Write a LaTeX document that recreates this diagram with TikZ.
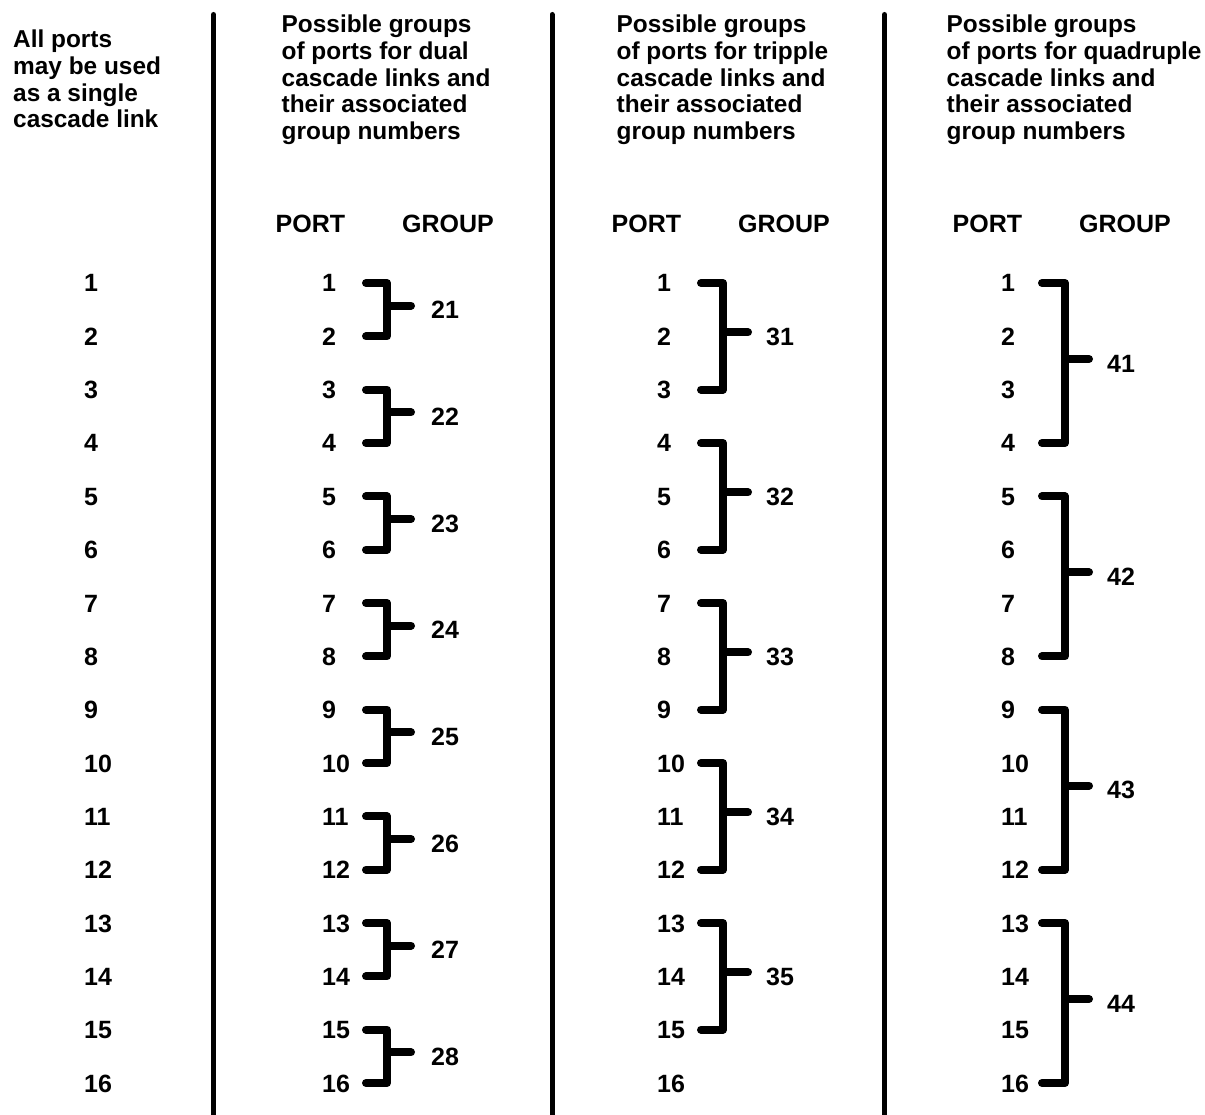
\documentclass[tikz,border=0pt]{standalone}
\usepackage{fontspec}
\setmainfont{Liberation Sans}
\begin{document}
\begin{tikzpicture}[x=1pt,y=-1pt,
  every node/.style={inner sep=0pt, font=\fontsize{25}{26.7}\selectfont\bfseries},
  header/.style={anchor=north west, align=left, font=\fontsize{24.4}{26.7}\selectfont\bfseries},
  brk/.style={line width=8pt, line cap=round, line join=round},
  divider/.style={line width=5pt, line cap=round}]
\useasboundingbox[fill=white] (0,0) rectangle (1205,1115);

% dividers
\coordinate (d1t) at (213.5,14.5); \coordinate (d1b) at (213.5,1125);
\coordinate (d2t) at (552,14.5);   \coordinate (d2b) at (552,1125);
\coordinate (d3t) at (884.5,14.5); \coordinate (d3b) at (884.5,1125);
\draw[divider] (d1t) -- (d1b);
\draw[divider] (d2t) -- (d2b);
\draw[divider] (d3t) -- (d3b);

% headers
\node[header] (h1) at (13,30) {All ports\\may be used\\as a single\\cascade link};
\node[header] (h2) at (281.5,15) {Possible groups\\of ports for dual\\cascade links and\\their associated\\group numbers};
\node[header] (h3) at (616.5,15) {Possible groups\\of ports for tripple\\cascade links and\\their associated\\group numbers};
\node[header] (h4) at (946.5,15) {Possible groups\\of ports for quadruple\\cascade links and\\their associated\\group numbers};

% PORT / GROUP
\node[anchor=base west] (p2) at (275.5,233) {PORT};
\node[anchor=base west] (g2) at (402,233) {GROUP};
\node[anchor=base west] (p3) at (611.5,233) {PORT};
\node[anchor=base west] (g3) at (738,233) {GROUP};
\node[anchor=base west] (p4) at (952.5,233) {PORT};
\node[anchor=base west] (g4) at (1079,233) {GROUP};

% port numbers
\foreach \i in {1,...,16} {
  \pgfmathsetmacro\yb{292+(\i-1)*53.333}
  \node[anchor=base west] (a\i) at (84,\yb) {\i};
  \node[anchor=base west] (b\i) at (322,\yb) {\i};
  \node[anchor=base west] (c\i) at (657,\yb) {\i};
  \node[anchor=base west] (e\i) at (1001,\yb) {\i};
}

% dual groups
\foreach \k in {1,...,8} {
  \pgfmathsetmacro\yt{283+(2*\k-2)*53.333}
  \pgfmathsetmacro\ybt{\yt+53.333}
  \pgfmathsetmacro\ym{(\yt+\ybt)/2}
  \pgfmathtruncatemacro\lab{20+\k}
  \coordinate (u2t\k) at (366,\yt);
  \coordinate (u2b\k) at (366,\ybt);
  \coordinate (u2m\k) at (387,\ym-4);
  \coordinate (u2e\k) at (411,\ym-4);
  \draw[brk] (u2t\k) -| (u2m\k) |- (u2b\k);
  \draw[brk] (u2m\k) -- (u2e\k);
  \node[anchor=base west] (n2\k) at (431,\ym+9) {\lab};
}

% triple groups
\foreach \k in {1,...,5} {
  \pgfmathsetmacro\yt{283+(3*\k-3)*53.333}
  \pgfmathsetmacro\ybt{\yt+106.667}
  \pgfmathsetmacro\ym{(\yt+\ybt)/2}
  \pgfmathtruncatemacro\lab{30+\k}
  \coordinate (u3t\k) at (701,\yt);
  \coordinate (u3b\k) at (701,\ybt);
  \coordinate (u3m\k) at (723,\ym-4);
  \coordinate (u3e\k) at (748,\ym-4);
  \draw[brk] (u3t\k) -| (u3m\k) |- (u3b\k);
  \draw[brk] (u3m\k) -- (u3e\k);
  \node[anchor=base west] (n3\k) at (766,\ym+9) {\lab};
}

% quadruple groups
\foreach \k in {1,...,4} {
  \pgfmathsetmacro\yt{283+(4*\k-4)*53.333}
  \pgfmathsetmacro\ybt{\yt+160}
  \pgfmathsetmacro\ym{(\yt+\ybt)/2}
  \pgfmathtruncatemacro\lab{40+\k}
  \coordinate (u4t\k) at (1042,\yt);
  \coordinate (u4b\k) at (1042,\ybt);
  \coordinate (u4m\k) at (1065,\ym-4);
  \coordinate (u4e\k) at (1089,\ym-4);
  \draw[brk] (u4t\k) -| (u4m\k) |- (u4b\k);
  \draw[brk] (u4m\k) -- (u4e\k);
  \node[anchor=base west] (n4\k) at (1107,\ym+9) {\lab};
}
\end{tikzpicture}
\end{document}
